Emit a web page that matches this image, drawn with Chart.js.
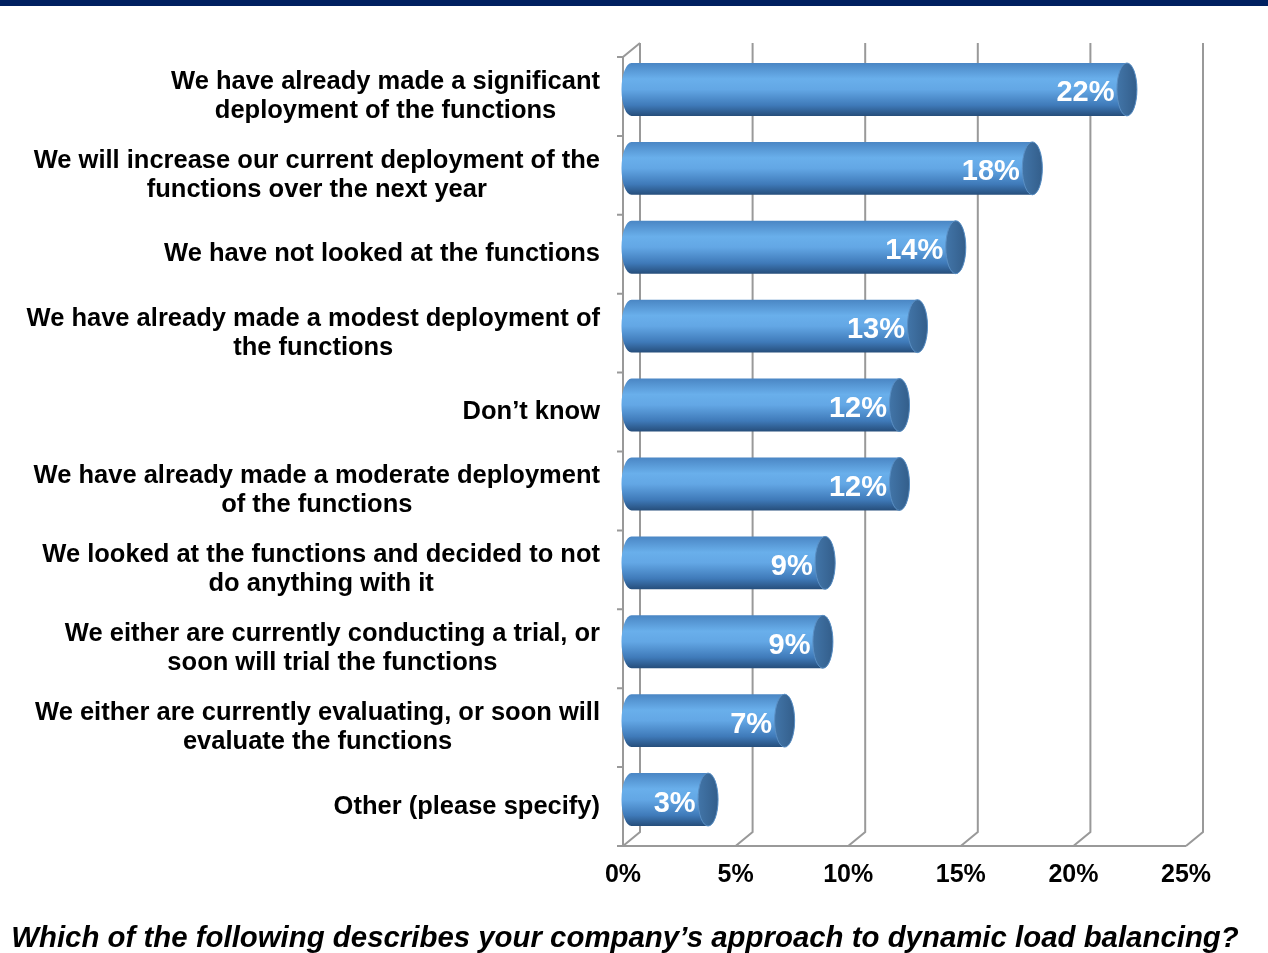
<!DOCTYPE html>
<html>
<head>
<meta charset="utf-8">
<script src="https://cdn.jsdelivr.net/npm/chart.js@4.4.1/dist/chart.umd.min.js"></script>
<style>
  html, body { margin: 0; padding: 0; background: #ffffff; }
  #wrap { position: relative; width: 1268px; height: 953px; }
</style>
</head>
<body>
<div id="wrap"><canvas id="approachChart"></canvas></div>
<script>
// === Survey data ===
const categoryLines = [
  ['We have already made a significant', 'deployment of the functions'],
  ['We will increase our current deployment of the', 'functions over the next year'],
  ['We have not looked at the functions'],
  ['We have already made a modest deployment of', 'the functions'],
  ['Don’t know'],
  ['We have already made a moderate deployment', 'of the functions'],
  ['We looked at the functions and decided to not', 'do anything with it'],
  ['We either are currently conducting a trial, or', 'soon will trial the functions'],
  ['We either are currently evaluating, or soon will', 'evaluate the functions'],
  ['Other (please specify)']
];
const shares = [22.0, 17.8, 14.4, 12.7, 11.9, 11.9, 8.6, 8.5, 6.8, 3.4];
const tickValues = [0, 5, 10, 15, 20, 25];
const tickLabels = ['0%', '5%', '10%', '15%', '20%', '25%'];
const questionText = 'Which of the following describes your company’s approach to dynamic load balancing?';

document.addEventListener('DOMContentLoaded', function () {
  const FONT = 'Arial, "Liberation Sans", sans-serif';
  const DEPTH_X = 17;
  const DEPTH_Y = 14;
  const GRID = '#999999';

  // === 3D frame, cylinders and all text ===
  const frame3d = {
    id: 'frame3d',
    beforeDraw(chart) {
      const c = chart.ctx;
      c.save();
      c.fillStyle = '#ffffff';
      c.fillRect(0, 0, chart.width, chart.height);
      // header band
      c.fillStyle = '#002060';
      c.fillRect(0, 0, chart.width, 6);
      c.restore();
    },
    beforeDatasetsDraw(chart) {
      const c = chart.ctx;
      const a = chart.chartArea;
      const x = chart.scales.x;
      c.save();
      c.strokeStyle = GRID;
      c.lineWidth = 2;
      c.beginPath();
      // back wall gridlines + floor diagonals
      tickValues.forEach(v => {
        const px = x.getPixelForValue(v);
        c.moveTo(px + DEPTH_X, a.top - DEPTH_Y);
        c.lineTo(px + DEPTH_X, a.bottom - DEPTH_Y);
        c.lineTo(px, a.bottom);
      });
      // floor front edge
      c.moveTo(a.left - 6, a.bottom);
      c.lineTo(x.getPixelForValue(25), a.bottom);
      // left wall
      c.moveTo(a.left, a.bottom);
      c.lineTo(a.left, a.top);
      c.lineTo(a.left + DEPTH_X, a.top - DEPTH_Y);
      // category tick marks
      const step = (a.bottom - a.top) / categoryLines.length;
      for (let i = 0; i <= categoryLines.length; i++) {
        c.moveTo(a.left - 6, a.top + i * step);
        c.lineTo(a.left, a.top + i * step);
      }
      c.stroke();
      c.restore();
    },
    afterDatasetsDraw(chart) {
      const c = chart.ctx;
      const a = chart.chartArea;
      const x = chart.scales.x;
      const y = chart.scales.y;
      const meta = chart.getDatasetMeta(0);

      c.save();
      meta.data.forEach((bar, i) => {
        const x0 = bar.base + DEPTH_X / 2;
        const x1 = bar.x + DEPTH_X / 2;
        const yc = bar.y - DEPTH_Y / 2;
        const h = bar.height;
        const top = yc - h / 2;
        const rx = 10;
        const ry = h / 2;

        const body = c.createLinearGradient(0, top, 0, top + h);
        body.addColorStop(0, '#4a86c4');
        body.addColorStop(0.3, '#69afeb');
        body.addColorStop(0.5, '#63a7e5');
        body.addColorStop(0.8, '#3f7ab9');
        body.addColorStop(1, '#264e7b');
        c.fillStyle = body;
        c.beginPath();
        c.moveTo(x1, top);
        c.lineTo(x0, top);
        c.ellipse(x0, yc, rx, ry, 0, -Math.PI / 2, Math.PI / 2, true);
        c.lineTo(x1, top + h);
        c.ellipse(x1, yc, rx, ry, 0, Math.PI / 2, -Math.PI / 2, true);
        c.closePath();
        c.fill();

        // end cap
        const cap = c.createLinearGradient(x1 - rx, 0, x1 + rx, 0);
        cap.addColorStop(0, '#4275a8');
        cap.addColorStop(1, '#335e8b');
        c.fillStyle = cap;
        c.strokeStyle = '#5a8fc4';
        c.lineWidth = 1;
        c.beginPath();
        c.ellipse(x1, yc, rx, ry, 0, 0, Math.PI * 2);
        c.fill();
        c.stroke();

        // value label
        c.fillStyle = '#ffffff';
        c.font = 'bold 29px ' + FONT;
        c.textAlign = 'right';
        c.textBaseline = 'middle';
        c.fillText(Math.round(shares[i]) + '%', bar.x - 4, yc + 4);
      });

      // category labels: right-aligned block, centred lines
      c.fillStyle = '#000000';
      c.font = 'bold 25.5px ' + FONT;
      c.textAlign = 'center';
      c.textBaseline = 'middle';
      categoryLines.forEach((lines, i) => {
        const yc = y.getPixelForValue(i);
        const w = Math.max(...lines.map(t => c.measureText(t).width));
        const cx = 600 - w / 2;
        lines.forEach((t, j) => {
          c.fillText(t, cx, yc + (j - (lines.length - 1) / 2) * 29);
        });
      });

      // value axis labels
      c.font = 'bold 25px ' + FONT;
      tickValues.forEach((v, k) => {
        c.fillText(tickLabels[k], x.getPixelForValue(v), a.bottom + 29);
      });

      // question
      c.font = 'italic bold 29.4px ' + FONT;
      c.fillText(questionText, 625, 939);
      c.restore();
    }
  };

  new Chart(document.getElementById('approachChart').getContext('2d'), {
    type: 'bar',
    data: {
      labels: categoryLines.map(l => l.join(' ')),
      datasets: [{
        data: shares,
        backgroundColor: 'rgba(0,0,0,0)',
        borderWidth: 0,
        barPercentage: 0.67,
        categoryPercentage: 1
      }]
    },
    options: {
      indexAxis: 'y',
      responsive: true,
      maintainAspectRatio: false,
      animation: false,
      events: [],
      layout: { padding: { left: 623, right: 82, top: 57, bottom: 107 } },
      plugins: { legend: { display: false }, tooltip: { enabled: false } },
      scales: {
        x: { min: 0, max: 25, display: false },
        y: { display: false }
      }
    },
    plugins: [frame3d]
  });
});
</script>
</body>
</html>
